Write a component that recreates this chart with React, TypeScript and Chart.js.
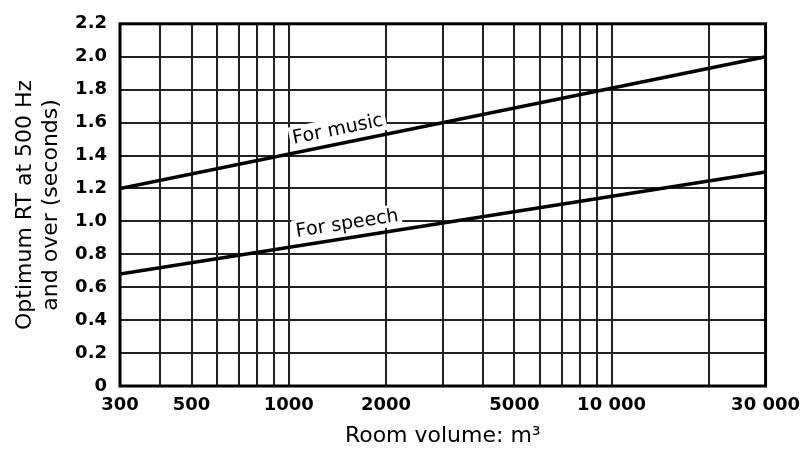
import React, { useEffect, useRef } from "react";
import { Chart, registerables } from "chart.js";

Chart.register(...registerables);

// ---- data ----
const volumes = [300, 30000];
const musicRT = [1.2, 2.0];
const speechRT = [0.68, 1.3];

const gridVolumes = [300, 400, 500, 600, 700, 800, 900, 1000, 2000, 3000, 4000, 5000, 6000, 7000, 8000, 9000, 10000, 20000, 30000];
const labeledVolumes = [300, 500, 1000, 2000, 5000, 10000, 30000];
const volumeLabels = ["300", "500", "1000", "2000", "5000", "10 000", "30 000"];

const rtTicks = [0, 0.2, 0.4, 0.6, 0.8, 1.0, 1.2, 1.4, 1.6, 1.8, 2.0, 2.2];
const rtLabels = ["0", "0.2", "0.4", "0.6", "0.8", "1.0", "1.2", "1.4", "1.6", "1.8", "2.0", "2.2"];

const curveLabels = ["For music", "For speech"];
const curveLabelVolumes = [1050, 1070];

const xTitle = "Room volume: m\u00B3";
const yTitle = ["Optimum RT at 500 Hz", "and over (seconds)"];

const W = 809;
const H = 452;

const curveLabelPlugin = {
  id: "curveLabels",
  beforeDatasetsDraw(chart: any) {
    const ctx = chart.ctx;
    const xs = chart.scales.x;
    const ys = chart.scales.y;
    const series = [musicRT, speechRT];
    series.forEach((vals, i) => {
      const x0 = xs.getPixelForValue(volumes[0]);
      const x1 = xs.getPixelForValue(volumes[1]);
      const y0 = ys.getPixelForValue(vals[0]);
      const y1 = ys.getPixelForValue(vals[1]);
      const px = xs.getPixelForValue(curveLabelVolumes[i]);
      const t = (px - x0) / (x1 - x0);
      const py = y0 + t * (y1 - y0);
      const ang = Math.atan2(y1 - y0, x1 - x0);
      ctx.save();
      ctx.translate(px, py);
      ctx.rotate(ang);
      ctx.font = "19px 'DejaVu Sans'";
      const tw = ctx.measureText(curveLabels[i]).width;
      ctx.fillStyle = "#fff";
      ctx.fillRect(-3, -26, tw + 6, 22);
      ctx.fillStyle = "#000";
      ctx.textBaseline = "alphabetic";
      ctx.fillText(curveLabels[i], 0, -9);
      ctx.restore();
    });
  },
};

const framePlugin = {
  id: "frame",
  afterDatasetsDraw(chart: any) {
    const { left, top, right, bottom } = chart.chartArea;
    const ctx = chart.ctx;
    ctx.save();
    ctx.strokeStyle = "#000";
    ctx.lineWidth = 3;
    ctx.strokeRect(left, top, right - left, bottom - top);
    ctx.restore();
  },
};

export default function App() {
  const ref = useRef<HTMLCanvasElement | null>(null);

  useEffect(() => {
    if (!ref.current) return;
    const tickFont = { family: "'DejaVu Sans', sans-serif", size: 18, weight: "bold" as const };
    const chart = new Chart(ref.current, {
      type: "line",
      data: {
        datasets: [
          {
            label: curveLabels[0],
            data: volumes.map((v, i) => ({ x: v, y: musicRT[i] })),
            borderColor: "#000",
            borderWidth: 3.5,
            pointRadius: 0,
            tension: 0,
          },
          {
            label: curveLabels[1],
            data: volumes.map((v, i) => ({ x: v, y: speechRT[i] })),
            borderColor: "#000",
            borderWidth: 3.5,
            pointRadius: 0,
            tension: 0,
          },
        ],
      },
      options: {
        animation: false,
        responsive: false,
        devicePixelRatio: 1,
        layout: { padding: { top: 14, right: 42, bottom: 0, left: 0 } },
        plugins: {
          legend: { display: false },
          tooltip: { enabled: false },
        },
        scales: {
          x: {
            type: "logarithmic",
            min: 300,
            max: 30000,
            afterBuildTicks: (axis: any) => {
              axis.ticks = gridVolumes.map((v) => ({ value: v }));
            },
            afterFit: (axis: any) => {
              axis.height = 66;
            },
            ticks: {
              autoSkip: false,
              maxRotation: 0,
              minRotation: 0,
              color: "#000",
              font: tickFont,
              padding: 9,
              callback: (v: any) => {
                const i = labeledVolumes.indexOf(Number(v));
                return i >= 0 ? volumeLabels[i] : "";
              },
            },
            grid: { color: "#222", lineWidth: 2, drawTicks: false },
            border: { display: false },
            title: {
              display: true,
              text: xTitle,
              color: "#000",
              font: { family: "'DejaVu Sans', sans-serif", size: 22 },
              padding: { top: 0, bottom: 3 },
            },
          },
          y: {
            type: "linear",
            min: 0,
            max: 2.2,
            afterBuildTicks: (axis: any) => {
              axis.ticks = rtTicks.map((v) => ({ value: v }));
            },
            afterFit: (axis: any) => {
              axis.width = 120;
            },
            ticks: {
              color: "#000",
              font: tickFont,
              padding: 13,
              callback: (v: any) => {
                const i = rtTicks.findIndex((t) => Math.abs(t - Number(v)) < 1e-6);
                return i >= 0 ? rtLabels[i] : "";
              },
            },
            grid: { color: "#222", lineWidth: 2, drawTicks: false },
            border: { display: false },
            title: {
              display: true,
              text: yTitle,
              color: "#000",
              font: { family: "'DejaVu Sans', sans-serif", size: 22, lineHeight: 1.18 },
              padding: { top: 12, bottom: 0 },
            },
          },
        },
      },
      plugins: [curveLabelPlugin, framePlugin],
    });
    return () => chart.destroy();
  }, []);

  return (
    <div style={{ position: "absolute", left: 0, top: 0, width: W, height: H, background: "#fff" }}>
      <canvas ref={ref} width={W} height={H} style={{ display: "block", width: W, height: H }} />
    </div>
  );
}
